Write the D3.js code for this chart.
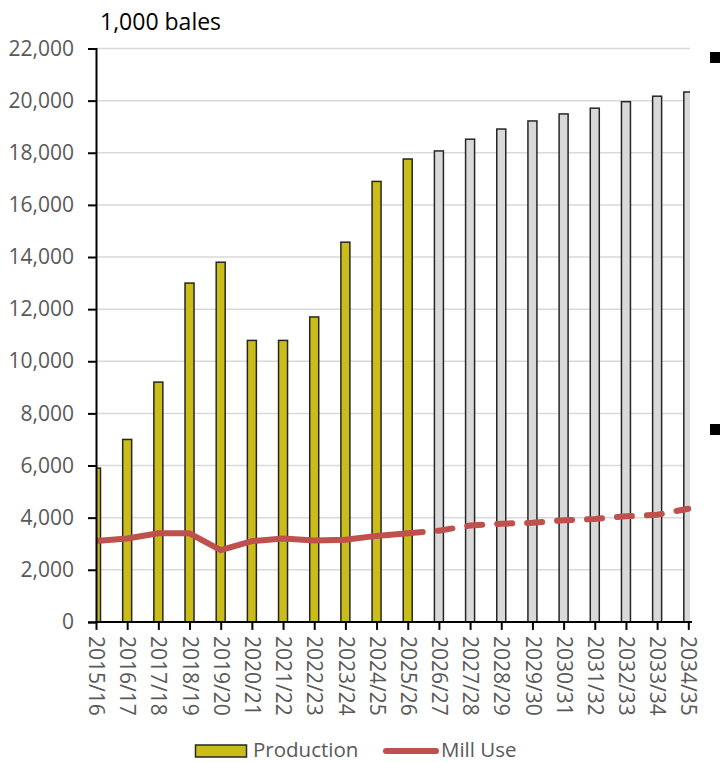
<!DOCTYPE html>
<html>
<head>
<meta charset="utf-8">
<script src="https://cdn.jsdelivr.net/npm/d3@7"></script>
<style>
  html, body { margin: 0; padding: 0; background: #fff; }
  svg { display: block; font-family: "Open Sans", "Noto Sans", sans-serif; }
</style>
</head>
<body>
<svg id="chart" width="720" height="762"></svg>
<script>
// ---- data ----
const categories = ["2015/16","2016/17","2017/18","2018/19","2019/20","2020/21","2021/22","2022/23","2023/24","2024/25",
                    "2025/26","2026/27","2027/28","2028/29","2029/30","2030/31","2031/32","2032/33","2033/34","2034/35"];
const production = [5900, 7000, 9200, 13000, 13800, 10800, 10800, 11700, 14570, 16900,
                    17760, 18070, 18520, 18910, 19220, 19490, 19710, 19960, 20170, 20330];
const millUse = [3100, 3200, 3400, 3400, 2750, 3100, 3200, 3120, 3150, 3300,
                 3400, 3500, 3700, 3770, 3800, 3900, 3950, 4050, 4110, 4340];
const lastActual = "2025/26";
const yTicks = [0, 2000, 4000, 6000, 8000, 10000, 12000, 14000, 16000, 18000, 20000, 22000];
const unitLabel = "1,000 bales";
const seriesNames = ["Production", "Mill Use"];

(function () {
// ---- layout ----
const svg = d3.select("#chart");
const pLeft = 96, pRight = 688.3, pTop = 48.5, pBottom = 621.9, plotRight = 690;
const colProd = "#CABD1A", colProj = "#D9D9D9", colMill = "#C0504D", colEdge = "#262626";
const labelColor = "#595959";

const x = d3.scalePoint().domain(categories).range([pLeft, pRight]);
const y = d3.scaleLinear().domain([0, 22000]).range([pBottom, pTop]);
const lastIdx = categories.indexOf(lastActual);

svg.append("defs").append("clipPath").attr("id", "plotclip")
  .append("rect").attr("x", pLeft).attr("y", 0).attr("width", plotRight - pLeft).attr("height", pBottom + 1);

// gridlines
svg.append("g").selectAll("line").data(yTicks.filter(d => d > 0)).join("line")
  .attr("x1", pLeft).attr("x2", plotRight)
  .attr("y1", d => y(d)).attr("y2", d => y(d))
  .attr("stroke", "#D9D9D9").attr("stroke-width", 1.5);

// bars
const barW = 9;
const rows = categories.map((c, i) => ({ c, i, v: production[i], m: millUse[i] }));
svg.append("g").attr("clip-path", "url(#plotclip)")
  .selectAll("rect").data(rows).join("rect")
  .attr("x", d => x(d.c) - barW / 2)
  .attr("y", d => y(d.v))
  .attr("width", barW)
  .attr("height", d => y(0) - y(d.v))
  .attr("fill", d => d.i <= lastIdx ? colProd : colProj)
  .attr("stroke", colEdge).attr("stroke-width", 1.5);

// mill use line
const line = d3.line().x(d => x(d.c)).y(d => y(d.m));
svg.append("path").datum(rows.slice(0, lastIdx + 1))
  .attr("d", line).attr("fill", "none").attr("stroke", colMill)
  .attr("stroke-width", 6).attr("stroke-linejoin", "round").attr("stroke-linecap", "butt");
svg.append("path").datum(rows.slice(lastIdx))
  .attr("d", line).attr("fill", "none").attr("stroke", colMill)
  .attr("stroke-width", 6).attr("stroke-linejoin", "round").attr("stroke-linecap", "round")
  .attr("stroke-dasharray", "15,15");

// y axis
const yAxis = d3.axisLeft(y).tickValues(yTicks).tickSize(8).tickFormat(d3.format(","));
const gy = svg.append("g").attr("transform", `translate(${pLeft},0)`).call(yAxis);
gy.select(".domain").attr("stroke", "#000").attr("stroke-width", 2);
gy.selectAll(".tick line").attr("stroke", "#000").attr("stroke-width", 2);
gy.selectAll(".tick text").attr("x", -22).attr("fill", labelColor)
  .attr("font-size", "21px").attr("font-family", "'Open Sans', sans-serif");

// x axis
const xAxis = d3.axisBottom(x).tickSize(8).tickSizeOuter(0);
const gx = svg.append("g").attr("transform", `translate(0,${pBottom})`).call(xAxis);
gx.select(".domain").attr("stroke", "#000").attr("stroke-width", 2)
  .attr("d", `M${pLeft},0H${plotRight + 2}`);
gx.selectAll(".tick line").attr("stroke", "#000").attr("stroke-width", 2);
gx.selectAll(".tick text")
  .attr("fill", labelColor).attr("font-size", "21px")
  .attr("font-family", "'Open Sans', sans-serif")
  .attr("text-anchor", "start")
  .attr("transform", "rotate(90)")
  .attr("x", 14).attr("y", 0).attr("dy", "0.35em");

// unit label
svg.append("text").attr("x", 100).attr("y", 30).text(unitLabel)
  .attr("font-size", "23px").attr("fill", "#000");

// cropped bullet markers at right edge
svg.append("g").selectAll("rect").data([52, 424]).join("rect")
  .attr("x", 710).attr("y", d => d).attr("width", 10).attr("height", 11).attr("fill", "#000");

// legend
const lg = svg.append("g");
const ly = 751;
lg.append("rect").attr("x", 195.5).attr("y", ly - 6).attr("width", 51).attr("height", 12)
  .attr("fill", colProd).attr("stroke", colEdge).attr("stroke-width", 1.5);
lg.append("text").attr("x", 253).attr("y", ly + 5.5).text(seriesNames[0])
  .attr("font-size", "20.5px").attr("fill", labelColor);
lg.append("line").attr("x1", 386).attr("x2", 436).attr("y1", ly).attr("y2", ly)
  .attr("stroke", colMill).attr("stroke-width", 6).attr("stroke-linecap", "round");
lg.append("text").attr("x", 441).attr("y", ly + 5.5).text(seriesNames[1])
  .attr("font-size", "20.5px").attr("fill", labelColor);
})();
</script>
</body>
</html>
